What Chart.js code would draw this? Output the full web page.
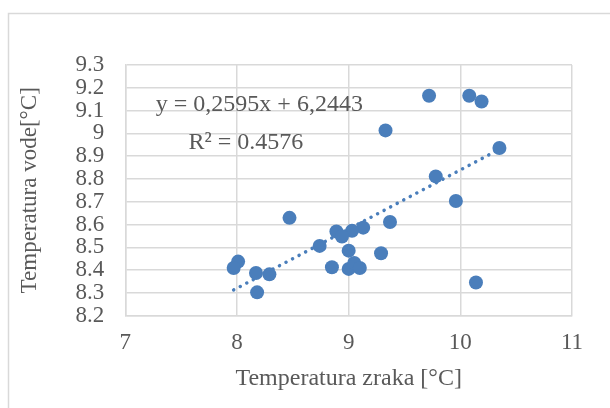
<!DOCTYPE html>
<html>
<head>
<meta charset="utf-8">
<script src="https://cdn.jsdelivr.net/npm/chart.js@4.4.0/dist/chart.umd.min.js"></script>
<style>
html,body{margin:0;padding:0;background:#fff;}
#wrap{position:absolute;left:0;top:0;width:610px;height:408px;}
</style>
</head>
<body>
<div id="wrap"><canvas id="c" width="610" height="408"></canvas></div>
<script>
const airTemp = [9.72,10.08,10.19,9.33,10.35,9.78,9.96,8.47,9.37,9.13,9.03,8.89,8.94,8.74,9.00,9.29,8.01,7.97,8.17,8.29,8.85,9.00,9.05,9.10,8.18,10.14];
const waterTemp = [9.165,9.165,9.14,9.013,8.936,8.811,8.703,8.629,8.611,8.586,8.572,8.569,8.547,8.506,8.485,8.474,8.437,8.409,8.387,8.381,8.412,8.405,8.431,8.409,8.302,8.345];
const slope = 0.2595, intercept = 6.2443;
const trendX = [7.97, 10.35];
const xTicks = [7,8,9,10,11];
const yTicks = [8.2,8.3,8.4,8.5,8.6,8.7,8.8,8.9,9.0,9.1,9.2,9.3];
const eqText = "y = 0,2595x + 6,2443";
const r2Text = "R² = 0.4576";
const xTitle = "Temperatura zraka [°C]";
const yTitle = "Temperatura vode[°C]";

const points = airTemp.map((x,i)=>({x:x,y:waterTemp[i]}));
const trend = trendX.map(x=>({x:x,y:slope*x+intercept}));
const FONT = "'Liberation Serif','Times New Roman',serif";
const TXT = '#595959';

const frame = {
  id:'frame',
  beforeDraw(chart){
    const ctx = chart.ctx;
    ctx.save();
    ctx.fillStyle='#fff';
    ctx.fillRect(0,0,chart.width,chart.height);
    ctx.strokeStyle='#d9d9d9';
    ctx.lineWidth=1.5;
    ctx.strokeRect(8.5,13.5,chart.width+20,chart.height+20);
    ctx.restore();
  },
  afterDatasetsDraw(chart){
    const ctx = chart.ctx, xs = chart.scales.x, ys = chart.scales.y;
    ctx.save();
    ctx.fillStyle = TXT;
    ctx.font = "24px " + FONT;
    ctx.textAlign='center';
    ctx.textBaseline='middle';
    ctx.fillText(eqText, xs.getPixelForValue(8.2), ys.getPixelForValue(9.125));
    ctx.fillText(r2Text, xs.getPixelForValue(8.08), ys.getPixelForValue(8.958));
    ctx.restore();
  }
};

new Chart(document.getElementById('c'), {
  type:'scatter',
  data:{datasets:[
    {label:'trend', data:trend, showLine:true, pointRadius:0, borderColor:'#4a7ebb', borderWidth:3.5, borderDash:[0.1,7.3], borderCapStyle:'round', fill:false, order:2},
    {label:'data', data:points, pointRadius:7, pointHoverRadius:7, backgroundColor:'#4a7ebb', borderColor:'#4a7ebb', borderWidth:0, order:1}
  ]},
  options:{
    responsive:false, animation:false, devicePixelRatio:1,
    layout:{padding:{left:16,right:38,top:65,bottom:15}},
    plugins:{legend:{display:false}, tooltip:{enabled:false}},
    scales:{
      x:{type:'linear', min:7, max:11,
        afterBuildTicks(s){s.ticks = xTicks.map(v=>({value:v}));},
        grid:{color:'#d9d9d9', lineWidth:1.5, drawTicks:false},
        border:{color:'#d9d9d9', width:1.5},
        ticks:{color:TXT, font:{family:FONT,size:23}, padding:14, maxRotation:0, autoSkip:false},
        title:{display:true, text:xTitle, color:TXT, font:{family:FONT,size:24}, padding:{top:-7,bottom:0}}
      },
      y:{type:'linear', min:8.2, max:9.3,
        afterBuildTicks(s){s.ticks = yTicks.map(v=>({value:v}));},
        grid:{color:'#d9d9d9', lineWidth:1.5, drawTicks:false},
        border:{color:'#d9d9d9', width:1.5},
        ticks:{color:TXT, font:{family:FONT,size:23}, padding:21, autoSkip:false, callback:v=>String(Number(v.toFixed(1)))},
        title:{display:true, text:yTitle, color:TXT, font:{family:FONT,size:23}, padding:{top:0,bottom:11}}
      }
    }
  },
  plugins:[frame]
});
</script>
</body>
</html>
